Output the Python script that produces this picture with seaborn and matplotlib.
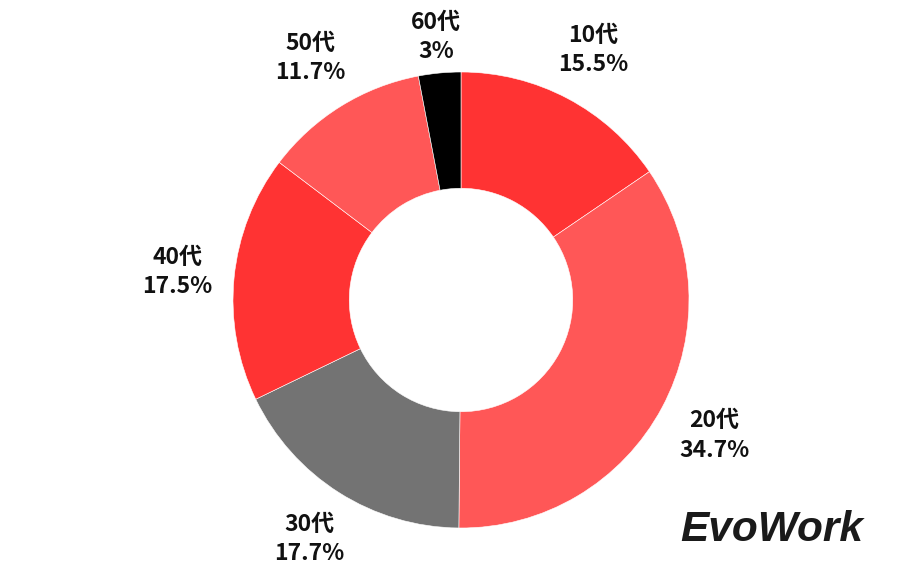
import matplotlib
matplotlib.use("Agg")
import matplotlib.pyplot as plt
import numpy as np
import seaborn as sns

# ── Data ──────────────────────────────────────────────────────────────────────
AGES   = ["10代", "20代", "30代", "40代", "50代", "60代"]
SHARES = [15.5, 34.7, 17.7, 17.5, 11.7, 3]
LABELS = ["15.5%", "34.7%", "17.7%", "17.5%", "11.7%", "3%"]
COLORS = ["#ff3333", "#ff5757", "#737373", "#ff3333", "#ff5757", "#000000"]
LABEL_R = [1.24, 1.26, 1.24, 1.25, 1.25, 1.16]

# ── Style ─────────────────────────────────────────────────────────────────────
sns.set_theme(style="white")
plt.rcParams["font.family"] = ["Noto Sans CJK JP", "DejaVu Sans"]

fig = plt.figure(figsize=(9, 5.7), dpi=100)
ax = fig.add_axes([0, 0, 1, 1])

wedges, _ = ax.pie(SHARES, colors=COLORS, startangle=90, counterclock=False,
                   radius=1.0, wedgeprops=dict(width=0.51, edgecolor="white",
                                               linewidth=0.4))

for w, age, lab, r in zip(wedges, AGES, LABELS, LABEL_R):
    ang = np.deg2rad((w.theta1 + w.theta2) / 2)
    x, y = r * np.cos(ang), r * np.sin(ang)
    ax.text(x, y, f"{age}\n{lab}", ha="center", va="center", fontsize=16.5,
            fontweight="bold", color="#111111", linespacing=1.35)

scale = 228.0
ax.set_xlim(-461 / scale, (900 - 461) / scale)
ax.set_ylim(-270 / scale, 300 / scale)
ax.set_aspect("equal")
ax.axis("off")

fig.text(0.857, 0.07, "EvoWork", ha="center", va="center", fontsize=30.5,
         fontweight="bold", fontstyle="italic", color="#1a1a1a",
         family="Liberation Sans")

fig.savefig("out.png", dpi=100)
